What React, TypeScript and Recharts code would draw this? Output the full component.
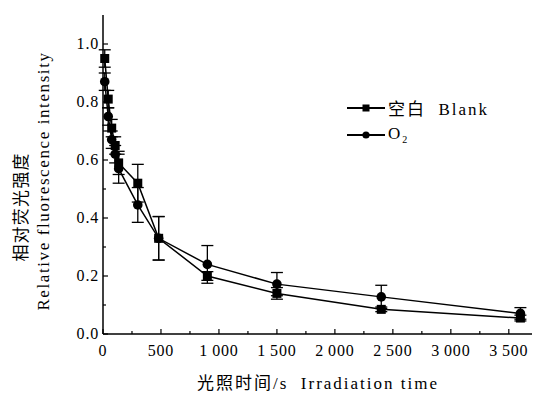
import React from 'react';
import { LineChart, Line, XAxis, YAxis, ErrorBar } from 'recharts';

// irradiation time (s)
const times = [15, 45, 75, 105, 135, 300, 480, 900, 1500, 2400, 3600];
// relative fluorescence intensity
const blank = [0.95, 0.81, 0.71, 0.65, 0.59, 0.52, 0.33, 0.2, 0.14, 0.085, 0.055];
const blankErr = [0.03, 0.03, 0.03, 0.03, 0.04, 0.065, 0.075, 0.015, 0.02, 0.008, 0.01];
const oxygen = [0.87, 0.75, 0.67, 0.62, 0.57, 0.445, 0.33, 0.24, 0.172, 0.128, 0.071];
const oxygenErr = [0.03, 0.03, 0.03, 0.03, 0.05, 0.06, 0.075, 0.065, 0.04, 0.04, 0.02];

const xTicks = [0, 250, 500, 750, 1000, 1250, 1500, 1750, 2000, 2250, 2500, 2750, 3000, 3250, 3500];
const yTicks = [0, 0.1, 0.2, 0.3, 0.4, 0.5, 0.6, 0.7, 0.8, 0.9, 1.0];

const data = times.map((t, i) => ({
  t,
  blank: blank[i],
  blankErr: blankErr[i],
  oxygen: oxygen[i],
  oxygenErr: oxygenErr[i],
}));

const SERIF = "'Liberation Serif', 'Times New Roman', 'DejaVu Serif', 'Noto Sans CJK SC', serif";
const labelStyle = { fontFamily: SERIF, fontSize: 16, letterSpacing: 0.8 };

function fmtThousands(v: number): string {
  if (v < 1000) return String(v);
  const s = String(v);
  return s.slice(0, s.length - 3) + '\u2009' + s.slice(s.length - 3);
}

function XTick(props: any) {
  const { x, y, payload } = props;
  const v = payload.value as number;
  const major = v % 500 === 0;
  return (
    <g>
      <line x1={x} y1={y} x2={x} y2={y - (major ? 5 : 3)} stroke="#000" strokeWidth={1.2} />
      {major && (
        <text x={x} y={y + 22} textAnchor="middle" fill="#000" style={labelStyle}>
          {fmtThousands(v)}
        </text>
      )}
    </g>
  );
}

function YTick(props: any) {
  const { x, y, payload } = props;
  const v = payload.value as number;
  const major = Math.round(v * 10) % 2 === 0;
  return (
    <g>
      <line x1={x} y1={y} x2={x + (major ? 5 : 3)} y2={y} stroke="#000" strokeWidth={1.2} />
      {major && (
        <text x={x - 4} y={y + 5} textAnchor="end" fill="#000" style={labelStyle}>
          {v.toFixed(1)}
        </text>
      )}
    </g>
  );
}

function SquareDot(props: any) {
  const { cx, cy, index } = props;
  return <rect key={'s' + index} x={cx - 4.5} y={cy - 4.5} width={9} height={9} fill="#000" />;
}

function CircleDot(props: any) {
  const { cx, cy, index } = props;
  return <circle key={'c' + index} cx={cx} cy={cy} r={4.8} fill="#000" />;
}

function LegendBox() {
  const row = (marker: React.ReactNode, label: React.ReactNode) => (
    <div style={{ display: 'flex', alignItems: 'center', height: 27 }}>
      <svg width={38} height={12}>
        <line x1={0} y1={6} x2={38} y2={6} stroke="#000" strokeWidth={2} />
        {marker}
      </svg>
      <span style={{ marginLeft: 3, fontSize: 17, letterSpacing: 2, fontFamily: SERIF, color: '#000', whiteSpace: 'pre' }}>
        {label}
      </span>
    </div>
  );
  return (
    <div style={{ position: 'absolute', left: 347, top: 94 }}>
      {row(<rect x={15.5} y={2.5} width={7} height={7} fill="#000" />, <>{'空白  Blank'}</>)}
      {row(<circle cx={19} cy={6} r={3.6} fill="#000" />, <>O<sub style={{ fontSize: 10, letterSpacing: 0 }}>2</sub></>)}
    </div>
  );
}

function RotatedLabel({ x, y, text, spacing }: { x: number; y: number; text: string; spacing: number }) {
  return (
    <div
      style={{
        position: 'absolute',
        left: x,
        top: y,
        transform: 'translate(-50%, -50%) rotate(-90deg)',
        fontSize: 17,
        letterSpacing: spacing,
        fontFamily: SERIF,
        color: '#000',
        lineHeight: '20px',
        whiteSpace: 'nowrap',
      }}
    >
      {text}
    </div>
  );
}

export default function App() {
  return (
    <div style={{ position: 'absolute', left: 0, top: 0, width: 539, height: 395, background: '#fff' }}>
      <LineChart width={539} height={395} data={data} margin={{ top: 15, right: 7, bottom: 60, left: 102 }}>
        <XAxis
          type="number"
          dataKey="t"
          domain={[0, 3700]}
          ticks={xTicks}
          height={1}
          tickSize={0}
          tickMargin={0}
          tickLine={false}
          tick={<XTick />}
          stroke="#000"
          strokeWidth={1.5}
          interval={0}
        />
        <YAxis
          type="number"
          domain={[0, 1.1]}
          ticks={yTicks}
          width={1}
          tickSize={0}
          tickMargin={0}
          tickLine={false}
          tick={<YTick />}
          stroke="#000"
          strokeWidth={1.5}
          interval={0}
        />
        <Line
          dataKey="blank"
          stroke="#000"
          strokeWidth={1.5}
          dot={<SquareDot />}
          isAnimationActive={false}
          name="空白 Blank"
        >
          <ErrorBar dataKey="blankErr" width={6} stroke="#000" strokeWidth={1.3} direction="y" />
        </Line>
        <Line
          dataKey="oxygen"
          stroke="#000"
          strokeWidth={1.5}
          dot={<CircleDot />}
          isAnimationActive={false}
          name="O2"
        >
          <ErrorBar dataKey="oxygenErr" width={6} stroke="#000" strokeWidth={1.3} direction="y" />
        </Line>
      </LineChart>
      <LegendBox />
      <div
        style={{
          position: 'absolute',
          left: 318,
          top: 381,
          transform: 'translate(-50%, -50%)',
          fontSize: 17,
          letterSpacing: 2,
          fontFamily: SERIF,
          color: '#000',
          whiteSpace: 'pre',
        }}
      >
        {'光照时间/s  Irradiation time'}
      </div>
      <RotatedLabel x={22} y={207} text="相对荧光强度" spacing={1.2} />
      <RotatedLabel x={44} y={181} text="Relative fluorescence intensity" spacing={1.6} />
    </div>
  );
}
